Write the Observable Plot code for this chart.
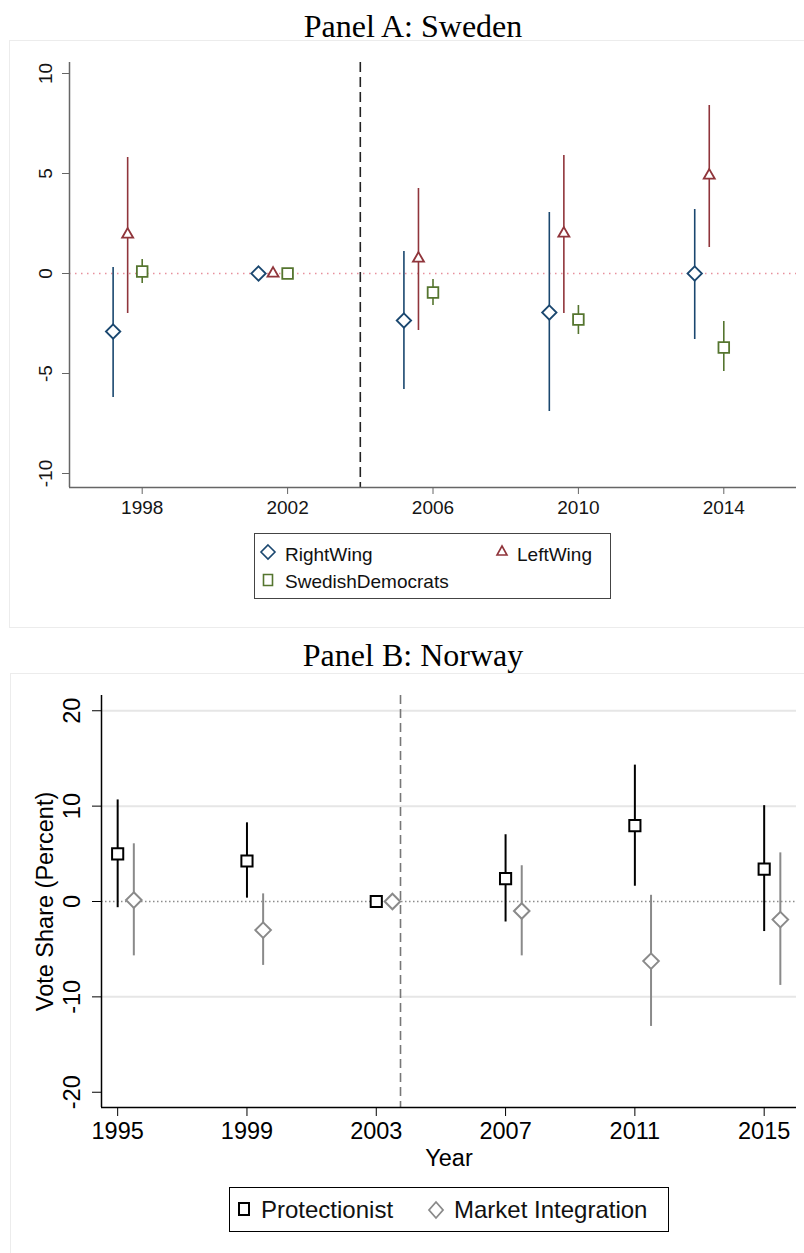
<!DOCTYPE html>
<html><head><meta charset="utf-8">
<script src="https://cdn.jsdelivr.net/npm/d3@7"></script>
<script src="https://cdn.jsdelivr.net/npm/@observablehq/plot@0.6"></script>
<style>
body{margin:0;background:#fff;}
#root{position:relative;width:804px;height:1253px;overflow:hidden;font-family:"Liberation Sans",Arial,sans-serif;color:#111;}
.abs{position:absolute;}
.title{position:absolute;font-family:"Liberation Serif","Times New Roman",serif;font-size:32px;line-height:32px;white-space:nowrap;transform:translateX(-50%);color:#000;}
.frame{position:absolute;border:1px solid #ececec;}
.legend{position:absolute;background:#fff;}
.lt{position:absolute;white-space:nowrap;line-height:1;transform:translateY(-50%);}
.glyph{position:absolute;overflow:visible;}
</style></head><body><div id="root"></div>
<script>
// ---------- Panel A: Sweden ----------
const yearsA = [1998, 2002, 2006, 2010, 2014];
const rightWing   = [-2.9, 0, -2.35, -1.95, 0];
const rightWingLo = [-6.2, 0, -5.8, -6.9, -3.3];
const rightWingHi = [0.3, 0, 1.1, 3.05, 3.2];
const leftWing    = [1.95, 0, 0.75, 2.0, 4.9];
const leftWingLo  = [-2.0, 0, -2.85, -2.0, 1.3];
const leftWingHi  = [5.8, 0, 4.25, 5.9, 8.4];
const swedDem     = [0.1, 0, -0.95, -2.3, -3.7];
const swedDemLo   = [-0.5, 0, -1.6, -3.05, -4.9];
const swedDemHi   = [0.7, 0, -0.3, -1.6, -2.4];
const seriesA = ["RightWing", "LeftWing", "SwedishDemocrats"];
const xTicksA = [1998, 2002, 2006, 2010, 2014];
const yTicksA = [10, 5, 0, -5, -10];
const breakA = 2004;

// ---------- Panel B: Norway ----------
const yearsB = [1995, 1999, 2003, 2007, 2011, 2015];
const protect   = [5.0, 4.25, 0, 2.4, 7.95, 3.4];
const protectLo = [-0.65, 0.35, 0, -2.15, 1.6, -3.15];
const protectHi = [10.65, 8.25, 0, 7.0, 14.3, 10.05];
const marketInt   = [0.15, -3.0, 0, -1.0, -6.25, -1.9];
const marketIntLo = [-5.7, -6.7, 0, -5.7, -13.1, -8.8];
const marketIntHi = [6.05, 0.8, 0, 3.75, 0.65, 5.1];
const seriesB = ["Protectionist", "Market Integration"];
const xTicksB = [1995, 1999, 2003, 2007, 2011, 2015];
const yTicksB = [20, 10, 0, -10, -20];
const gridB = [20, 10, -10];
const breakB = 2003.75;

// ---------- helpers ----------
function rows(years, v, lo, hi, off) {
  return years.map((yr, i) => ({x: yr + off, v: v[i], lo: lo[i], hi: hi[i]}));
}
const root = document.getElementById("root");
function el(tag, cls, css, html) {
  const e = document.createElement(tag);
  if (cls) e.className = cls;
  Object.assign(e.style, css || {});
  if (html != null) e.textContent = html;
  root.appendChild(e);
  return e;
}
function glyph(x, y, path, stroke, sw) {
  const ns = "http://www.w3.org/2000/svg";
  const s = document.createElementNS(ns, "svg");
  s.setAttribute("class", "glyph");
  s.setAttribute("width", 30); s.setAttribute("height", 30);
  s.style.left = (x - 15) + "px"; s.style.top = (y - 15) + "px";
  const p = document.createElementNS(ns, "path");
  p.setAttribute("d", path);
  p.setAttribute("transform", "translate(15,15)");
  p.setAttribute("fill", "white");
  p.setAttribute("stroke", stroke);
  p.setAttribute("stroke-width", sw);
  s.appendChild(p);
  root.appendChild(s);
}

const cBlue = "#1a476f", cRed = "#90353b", cGreen = "#55752f";
const cGray = "#8a8a8a";

// frames
el("div", "frame", {left: "9px", top: "40px", width: "820px", height: "586px"});
el("div", "frame", {left: "10px", top: "673px", width: "820px", height: "640px"});

// titles
el("div", "title", {left: "413px", top: "10px"}, "Panel A: Sweden");
el("div", "title", {left: "413px", top: "639px"}, "Panel B: Norway");

// ---------- Plot A ----------
const xDomainA = [1996, 2016];
const yDomainA = [-10.7, 10.55];
const rw = rows(yearsA, rightWing, rightWingLo, rightWingHi, -0.8);
const lw = rows(yearsA, leftWing, leftWingLo, leftWingHi, -0.4);
const sd = rows(yearsA, swedDem, swedDemLo, swedDemHi, 0);
const axA = "#666";
const plotA = Plot.plot({
  width: 804, height: 530,
  marginTop: 62, marginBottom: 43, marginLeft: 69, marginRight: 8,
  x: {domain: xDomainA},
  y: {domain: yDomainA},
  style: {fontFamily: "Liberation Sans, Arial, sans-serif", fontSize: "19px", color: "#151515", background: "transparent", overflow: "visible"},
  marks: [
    Plot.ruleY([0], {stroke: "#e8909c", strokeWidth: 1.5, strokeDasharray: "1.5,4.5"}),
    Plot.ruleX([breakA], {stroke: "#222", strokeWidth: 1.6, strokeDasharray: "10,5"}),
    Plot.ruleX(rw, {x: "x", y1: "lo", y2: "hi", stroke: cBlue, strokeWidth: 1.6}),
    Plot.ruleX(lw, {x: "x", y1: "lo", y2: "hi", stroke: cRed, strokeWidth: 1.6}),
    Plot.ruleX(sd, {x: "x", y1: "lo", y2: "hi", stroke: cGreen, strokeWidth: 1.6}),
    Plot.dot(rw, {x: "x", y: "v", symbol: "diamond2", r: 6.5, stroke: cBlue, fill: "white", strokeWidth: 1.8}),
    Plot.dot(lw, {x: "x", y: "v", symbol: "triangle", r: 4.1, stroke: cRed, fill: "white", strokeWidth: 1.8}),
    Plot.dot(sd, {x: "x", y: "v", symbol: "square", r: 6.0, stroke: cGreen, fill: "white", strokeWidth: 1.8}),
    Plot.ruleX([xDomainA[0]], {stroke: axA, strokeWidth: 1.5}),
    Plot.ruleY([yDomainA[0]], {stroke: axA, strokeWidth: 1.5}),
    Plot.axisX({ticks: xTicksA, tickSize: 7, tickPadding: 6, tickFormat: d => String(d), stroke: axA, label: null}),
    Plot.axisY({ticks: yTicksA, tickSize: 7, tickFormat: () => "", stroke: axA, label: null}),
    Plot.text(yTicksA, {y: d => d, text: d => String(d), frameAnchor: "left", dx: -24, rotate: -90, textAnchor: "middle", lineAnchor: "middle", fontSize: 19, fill: "#151515"})
  ]
});
plotA.style.position = "absolute"; plotA.style.left = "0px"; plotA.style.top = "0px";
root.appendChild(plotA);

// legend A
el("div", "legend", {left: "254px", top: "533px", width: "355px", height: "64px", border: "1px solid #444"});
const fA = {fontSize: "19px"};
glyph(267.5, 552, "M0,-7L7,0L0,7L-7,0Z", cBlue, 1.6);
el("div", "lt", Object.assign({left: "285px", top: "554px"}, fA), seriesA[0]);
glyph(501.5, 551, "M0,-5L5,4L-5,4Z", cRed, 1.6);
el("div", "lt", Object.assign({left: "517px", top: "554px"}, fA), seriesA[1]);
glyph(267.5, 580, "M-4.5,-5.5H4.5V5.5H-4.5Z", cGreen, 1.6);
el("div", "lt", Object.assign({left: "285px", top: "581px"}, fA), seriesA[2]);

// ---------- Plot B ----------
const xDomainB = [1994.5, 2016];
const yDomainB = [-21.6, 21.6];
const pr = rows(yearsB, protect, protectLo, protectHi, 0);
const mi = rows(yearsB, marketInt, marketIntLo, marketIntHi, 0.5);
const plotB = Plot.plot({
  width: 804, height: 537,
  marginTop: 55, marginBottom: 70, marginLeft: 101, marginRight: 8,
  x: {domain: xDomainB},
  y: {domain: yDomainB},
  style: {fontFamily: "Liberation Sans, Arial, sans-serif", fontSize: "23.5px", color: "#000", background: "transparent", overflow: "visible"},
  marks: [
    Plot.ruleY(gridB, {stroke: "#e6e6e6", strokeWidth: 2}),
    Plot.ruleY([0], {stroke: "#8c8c8c", strokeWidth: 1.5, strokeDasharray: "1.5,2.5"}),
    Plot.ruleX([breakB], {stroke: "#777", strokeWidth: 1.6, strokeDasharray: "9,5"}),
    Plot.ruleX(pr, {x: "x", y1: "lo", y2: "hi", stroke: "#000", strokeWidth: 2}),
    Plot.ruleX(mi, {x: "x", y1: "lo", y2: "hi", stroke: cGray, strokeWidth: 2}),
    Plot.dot(pr, {x: "x", y: "v", symbol: "square", r: 6.3, stroke: "#000", fill: "white", strokeWidth: 2}),
    Plot.dot(mi, {x: "x", y: "v", symbol: "diamond2", r: 7.0, stroke: cGray, fill: "white", strokeWidth: 2}),
    Plot.ruleX([xDomainB[0]], {stroke: "#000", strokeWidth: 1.5}),
    Plot.ruleY([yDomainB[0]], {stroke: "#000", strokeWidth: 1.5}),
    Plot.axisX({ticks: xTicksB, tickSize: 9, tickPadding: 6, tickFormat: d => String(d), stroke: "#000", label: null}),
    Plot.axisY({ticks: yTicksB, tickSize: 9, tickFormat: () => "", stroke: "#000", label: null}),
    Plot.text(yTicksB, {y: d => d, text: d => String(d), frameAnchor: "left", dx: -29, rotate: -90, textAnchor: "middle", lineAnchor: "middle", fontSize: 23.5, fill: "#000"}),
    Plot.text(["Vote Share (Percent)"], {text: d => d, frameAnchor: "left", dx: -56, rotate: -90, textAnchor: "middle", lineAnchor: "middle", fontSize: 23.5, fill: "#000"}),
    Plot.text(["Year"], {text: d => d, frameAnchor: "bottom", dy: 51, textAnchor: "middle", lineAnchor: "middle", fontSize: 23.5, fill: "#000"})
  ]
});
plotB.style.position = "absolute"; plotB.style.left = "0px"; plotB.style.top = "640px";
root.appendChild(plotB);

// legend B
el("div", "legend", {left: "229px", top: "1187px", width: "438px", height: "43px", border: "1.5px solid #000"});
const fB = {fontSize: "24px"};
glyph(243.5, 1209, "M-5,-6H5V6H-5Z", "#000", 2);
el("div", "lt", Object.assign({left: "261px", top: "1210px"}, fB), seriesB[0]);
glyph(436, 1209.5, "M0,-8L7,0L0,8L-7,0Z", cGray, 1.8);
el("div", "lt", Object.assign({left: "454px", top: "1210px"}, fB), seriesB[1]);
</script>
</body></html>
